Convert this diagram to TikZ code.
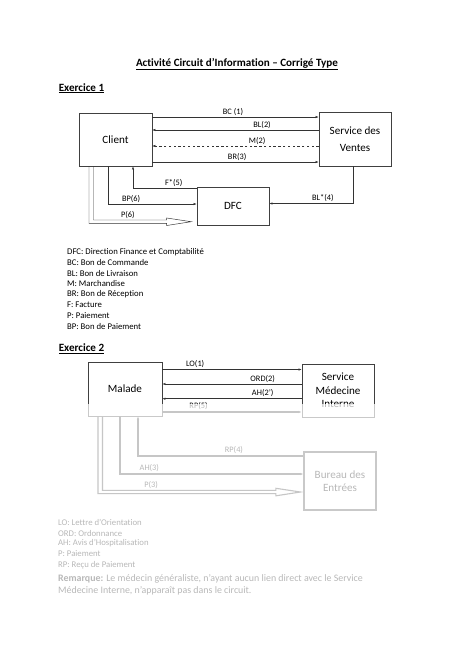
\documentclass[tikz,border=0pt]{standalone}
\usepackage{fontspec}
\setmainfont{Carlito}[Ligatures=NoCommon]
\usetikzlibrary{arrows.meta, positioning, calc}

\begin{document}
\begin{tikzpicture}[
    x=0.0443cm, y=-0.0443cm,
    font=\fontsize{11}{13.4}\selectfont,
    entity/.style={
        draw=black!75,
        line width=0.7pt,
        fill=white,
        align=center,
        inner sep=2pt,
        font=\fontsize{14}{17}\selectfont
    },
    flow/.style={
        -{Latex[length=4pt, width=3pt]},
        line width=0.6pt,
        draw=black!80
    },
    flow label/.style={
        font=\fontsize{10.5}{12}\selectfont,
        inner sep=2pt
    },
    heading/.style={
        font=\bfseries\fontsize{14}{16}\selectfont,
        anchor=west
    },
    legend text/.style={
        anchor=west,
        inner sep=0pt
    },
    blur flow/.style={
        flow,
        line width=1.4pt
    }
]

    \useasboundingbox (0,0) rectangle (474,670);

    % --- TITLES ---
    \node[font=\bfseries\fontsize{14}{16}\selectfont] (title) at (237,64)
        {\underline{Activité Circuit d'Information – Corrigé Type}};
    \node[heading] (ex1) at (56,88) {\underline{Exercice 1}};

    % --- A. EXERCICE 1 ---
    \node[entity, minimum width=3.23cm, minimum height=2.35cm] (client) at (115.5,139.5) {Client};
    \node[entity, minimum width=3.19cm, minimum height=2.39cm] (sv) at (355,139) {Service des\\[4pt]Ventes};
    \node[entity, minimum width=3.19cm, minimum height=1.68cm] (dfc) at (233,206) {DFC};

    \draw[flow] (client.east |- 0,117) -- (sv.west |- 0,117)
        node[flow label, above, pos=0.485] (bc) {BC (1)};
    \draw[flow] (sv.west |- 0,130) -- (client.east |- 0,130)
        node[flow label, above, pos=0.34] (bl) {BL(2)};
    \draw[flow, dashed] (sv.west |- 0,146) -- (client.east |- 0,146)
        node[flow label, above, pos=0.37] (m) {M(2)};
    \draw[flow] (client.east |- 0,162) -- (sv.west |- 0,162)
        node[flow label, above, pos=0.51] (br) {BR(3)};

    \draw[flow] (dfc.west |- 0,188) -| (client.south -| 133,0)
        node[flow label, above, pos=0.18] (f) {F*(5)};
    \draw[flow] (client.south -| 108,0) |- (dfc.west |- 0,204)
        node[flow label, above, pos=0.63] (bp) {BP(6)};
    \draw[flow] (sv.south -| 353,0) |- (dfc.east |- 0,203.5)
        node[flow label, above, pos=0.68] (blstar) {BL*(4)};

    % hollow payment arrow
    \coordinate (pay tip) at ($(dfc.west |- 0,221.7)+(-5.5,0)$);
    \draw[line width=0.6pt, draw=black!80]
        (client.south -| 93.5,0) |- ($(pay tip)+(-24.5,-1.7)$)
        node[flow label, above, pos=0.735] (p) {P(6)}
        -- ++(0,-2) -- (pay tip) -- ($(pay tip)+(-24.5,3.8)$) -- ++(0,-2.2)
        -| (client.south -| 89,0);

    % --- LEGEND 1 ---
    \node[legend text] (lg dfc) at (67,252) {DFC: Direction Finance et Comptabilité};
    \node[legend text] (lg bc) at (67,262.5) {BC: Bon de Commande};
    \node[legend text] (lg bl) at (67,273) {BL: Bon de Livraison};
    \node[legend text] (lg m) at (67,283.5) {M: Marchandise};
    \node[legend text] (lg br) at (67,294) {BR: Bon de Réception};
    \node[legend text] (lg f) at (67,304.5) {F: Facture};
    \node[legend text] (lg p) at (67,315.5) {P: Paiement};
    \node[legend text] (lg bp) at (67,326.5) {BP: Bon de Paiement};

    % --- B. EXERCICE 2 ---
    \node[heading] (ex2) at (56,348.5) {\underline{Exercice 2}};

    \node[entity, minimum width=3.28cm, minimum height=2.39cm] (malade) at (125,389) {Malade};
    \node[entity, minimum width=3.19cm, minimum height=2.35cm] (sm) at (338,390.5) {Service\\Médecine\\Interne};
    \node[entity, minimum width=3.19cm, minimum height=2.57cm, line width=1.4pt] (bureau) at (340,481) {Bureau des\\Entrées};

    \draw[flow] (malade.east |- 0,369.5) -- (sm.west |- 0,369.5)
        node[flow label, above, pos=0.236] (lo) {LO(1)};
    \draw[flow] (sm.west |- 0,384) -- (malade.east |- 0,384)
        node[flow label, above, pos=0.28] (ord) {ORD(2)};
    \draw[flow] (sm.west |- 0,398.7) -- (malade.east |- 0,398.7)
        node[flow label, above, pos=0.28] (ah) {AH(2')};
    \draw[blur flow] (malade.east |- 0,412) -- (sm.west |- 0,412)
        node[flow label, above, pos=0.26] (rp sm) {RP(5)};

    \draw[blur flow] (bureau.west |- 0,456) -| (malade.south -| 138,0)
        node[flow label, above, pos=0.21] (rp) {RP(4)};
    \draw[blur flow] (malade.south -| 120,0) |- (bureau.west |- 0,474)
        node[flow label, above, pos=0.58] (ah be) {AH(3)};

    \coordinate (pay2 tip) at ($(bureau.west |- 0,492)+(-3,0)$);
    \draw[line width=1.4pt, draw=black!80]
        (malade.south -| 102.5,0) |- ($(pay2 tip)+(-24.5,-1.7)$)
        node[flow label, above, pos=0.64] (p be) {P(3)}
        -- ++(0,-2) -- (pay2 tip) -- ($(pay2 tip)+(-24.5,3.8)$) -- ++(0,-2.2)
        -| (malade.south -| 98,0);

    % --- LEGEND 2 ---
    \node[legend text] (lg lo) at (58,522.5) {LO: Lettre d'Orientation};
    \node[legend text] (lg ord) at (58,533) {ORD: Ordonnance};
    \node[legend text] (lg ah) at (58,543.5) {AH: Avis d'Hospitalisation};
    \node[legend text] (lg pp) at (58,554) {P: Paiement};
    \node[legend text] (lg rp) at (58,565) {RP: Reçu de Paiement};

    \node[anchor=north west, align=left, inner sep=0pt, font=\fontsize{12.5}{15.5}\selectfont] (remarque) at (58,574)
        {\textbf{Remarque:} Le médecin généraliste, n'ayant aucun lien direct avec le Service\\
         Médecine Interne, n'apparaît pas dans le circuit.};

    % blurred preview area
    \fill[white, opacity=0.72] (0,404) rectangle (474,670);

\end{tikzpicture}
\end{document}
